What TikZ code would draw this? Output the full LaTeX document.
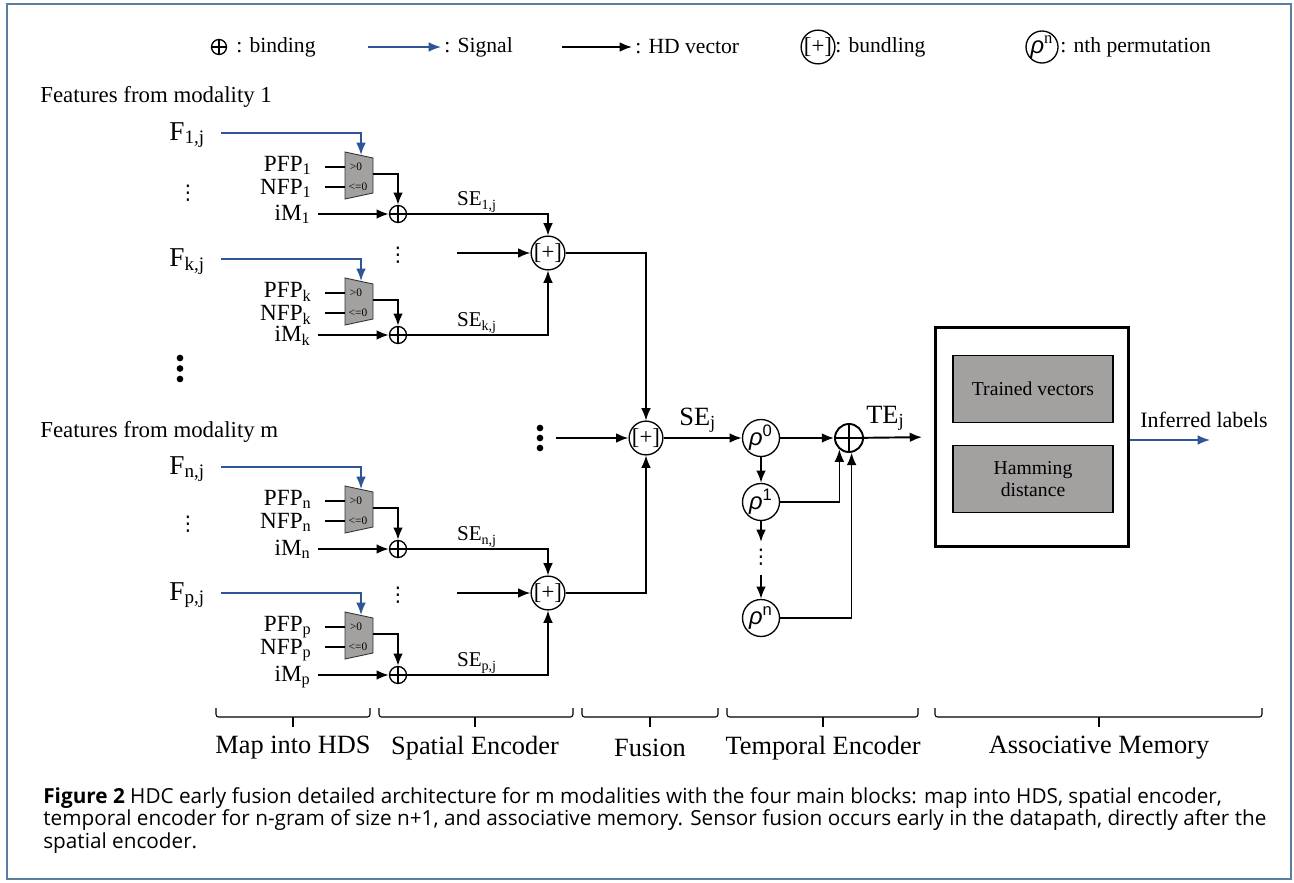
\documentclass[tikz,border=0pt]{standalone}
\usepackage{fontspec}
\setmainfont{Liberation Serif}
\newfontfamily\capfont{Open Sans}
\newfontfamily\rhofont{Liberation Sans}
\newfontfamily\dotfont{DejaVu Sans}
\usetikzlibrary{arrows.meta,positioning,calc}
\definecolor{sigblue}{HTML}{2F5597}
\definecolor{muxgray}{HTML}{A3A0A0}
\definecolor{framecol}{HTML}{5B7DA0}
\tikzset{
  vec/.style={-{Latex[length=7pt,width=5.5pt]}, line width=1.1pt},
  sev/.style={-{Latex[length=7pt,width=5.5pt]}, line width=0.75pt},
  wire/.style={line width=0.75pt},
  sig/.style={-{Latex[length=7pt,width=5.5pt]}, line width=0.9pt, sigblue},
  lab/.style={font=\fontsize{13.2}{13.2}\selectfont, inner sep=0pt},
  flab/.style={font=\fontsize{15.5}{15.5}\selectfont, inner sep=0pt},
  selab/.style={font=\fontsize{12}{12}\selectfont, inner sep=0pt},
  muxtxt/.style={font=\fontsize{6.5}{6.5}\selectfont, inner sep=0pt},
  vdt/.style={font=\dotfont\fontsize{11.5}{11.5}\selectfont, inner sep=0pt},
  mux/.style={draw=black!80, fill=muxgray, line width=0.5pt},
  bind/.style={circle, draw, line width=0.75pt, minimum size=0.34cm, inner sep=0pt,
    path picture={\draw[line width=0.75pt] (path picture bounding box.north) -- (path picture bounding box.south)
      (path picture bounding box.west) -- (path picture bounding box.east);}},
  bundle/.style={circle, draw, line width=0.75pt, minimum size=0.66cm, inner sep=0pt,
    font=\fontsize{13}{13}\selectfont},
  perm/.style={circle, draw, line width=0.75pt, minimum size=0.74cm, inner sep=0pt,
    font=\fontsize{13.5}{13.5}\selectfont},
  grayb/.style={draw, line width=0.8pt, fill=muxgray, minimum width=3.2cm, minimum height=1.34cm,
    align=center, font=\fontsize{11.2}{13}\selectfont},
  brk/.style={line width=0.6pt, rounded corners=1.5pt},
  blab/.style={font=\fontsize{15}{15}\selectfont, inner sep=0pt}
}
\begin{document}
\begin{tikzpicture}[x=0.02cm, y=-0.02cm]
\useasboundingbox (0,0) rectangle (1294,882);
\draw[framecol, line width=1.1pt] (7,4) rectangle (1291,879);

% legend
\node[bind, minimum size=0.3cm] (lgbind) at (219,47) {};
\node[lab, anchor=west, font=\fontsize{12.3}{12.3}\selectfont] (lgbindtxt) at (236,47) {: binding};
\coordinate (lgsigA) at (368,47);
\coordinate (lgsigB) at (441,47);
\draw[sig] (lgsigA) -- (lgsigB);
\node[lab, anchor=west, font=\fontsize{12.3}{12.3}\selectfont] (lgsigtxt) at (444,47) {: Signal};
\coordinate (lgvecA) at (562,47);
\coordinate (lgvecB) at (632,47);
\draw[vec] (lgvecA) -- (lgvecB);
\node[lab, anchor=west, font=\fontsize{12.3}{12.3}\selectfont] (lgvectxt) at (635,47) {: HD vector};
\node[bundle, minimum size=0.6cm] (lgbund) at (818,47) {[+]};
\node[lab, anchor=west, font=\fontsize{12.3}{12.3}\selectfont] (lgbundtxt) at (835,47) {: bundling};
\node[perm, minimum size=0.64cm] (lgperm) at (1042,47) {{\rhofont\itshape ρ}\textsuperscript{n}};
\node[lab, anchor=west, font=\fontsize{12.3}{12.3}\selectfont] (lgpermtxt) at (1060,47) {: nth permutation};

% inputs
\node[lab, anchor=west, font=\fontsize{13}{13}\selectfont] (mod1) at (40,97) {Features from modality 1};
\node[lab, anchor=west, font=\fontsize{13}{13}\selectfont] (modm) at (40,432) {Features from modality m};

\foreach \i/\fy/\by in {1/133/214, k/259/335, n/467/549, p/593/675}{
  \node[flab, anchor=base west] (F\i) at (169,{\fy+7}) {F\textsubscript{\i,j}};
  \coordinate (sig\i) at (221,\fy);
  \draw[mux] (345,{\fy+19}) -- (373,{\fy+25}) -- (373,{\fy+60}) -- (345,{\fy+66}) -- cycle;
  \node[muxtxt] (gt\i) at (356,{\fy+34}) {>0};
  \node[muxtxt] (le\i) at (358,{\fy+54}) {<=0};
  \coordinate (mtop\i) at (361,{\fy+22});
  \coordinate (mout\i) at (373,{\fy+41});
  \coordinate (pinA\i) at (345,{\fy+34});
  \coordinate (pinB\i) at (345,{\fy+54});
  \node[lab, anchor=base east, inner xsep=0.26cm] (pfp\i) at (325,{\fy+38}) {PFP\textsubscript{\i}};
  \node[lab, anchor=base east, inner xsep=0.26cm] (nfp\i) at (325,{\fy+61}) {NFP\textsubscript{\i}};
  \node[bind] (bind\i) at (398,\by) {};
  \node[lab, anchor=base east, inner xsep=0.14cm] (im\i) at (318,{\by+6}) {iM\textsubscript{\i}};
  \node[selab] (se\i) at (477,{\by-12}) {SE\textsubscript{\i,j}};
  \draw[sig] (sig\i) -| (mtop\i);
  \draw[wire] (pfp\i.east |- pinA\i) -- (pinA\i);
  \draw[wire] (nfp\i.east |- pinB\i) -- (pinB\i);
  \draw[vec] (mout\i) -| (bind\i);
  \draw[vec] (im\i.east |- bind\i) -- (bind\i);
}
\node[vdt] (dots1) at (188,193) {⋮};
\node[vdt] (dotsn) at (188,524) {⋮};
\fill (180,358) circle[radius=1.9pt] (180,368.5) circle[radius=1.9pt] (180,379) circle[radius=1.9pt];

% spatial encoder
\node[bundle] (bundA) at (548,253) {[+]};
\node[bundle] (bundB) at (548,593) {[+]};
\node[vdt] (dotsA) at (398,255) {⋮};
\node[vdt] (dotsB) at (398,595) {⋮};
\coordinate (inA) at (457,253);
\coordinate (inB) at (457,593);
\draw[vec] (inA) -- (bundA);
\draw[vec] (inB) -- (bundB);
\draw[sev] (bind1) -| (bundA);
\draw[sev] (bindk) -| (bundA);
\draw[sev] (bindn) -| (bundB);
\draw[sev] (bindp) -| (bundB);

% fusion
\node[bundle] (fus) at (646,438) {[+]};
\fill (540,428) circle[radius=1.9pt] (540,438) circle[radius=1.9pt] (540,448) circle[radius=1.9pt];
\coordinate (inF) at (556,438);
\draw[vec] (inF) -- (fus);
\draw[sev] (bundA) -| (fus);
\draw[sev] (bundB) -| (fus);

% temporal encoder
\node[perm] (rho0) at (761,438) {{\rhofont\itshape ρ}{\rhofont\textsuperscript{0}}};
\node[perm] (rho1) at (761,502) {{\rhofont\itshape ρ}{\rhofont\textsuperscript{1}}};
\node[perm] (rhon) at (761,618) {{\rhofont\itshape ρ}{\rhofont\textsuperscript{n}}};
\node[bind, minimum size=0.56cm, line width=1.1pt] (tbind) at (849,438) {};
\node[vdt] (rdots) at (761,557) {⋮};
\coordinate (rdA) at (761,542);
\coordinate (rdB) at (761,575);
\node[lab, anchor=base west, font=\fontsize{15}{15}\selectfont] (sej) at (679,425) {SE\textsubscript{j}};
\node[lab, anchor=base west, font=\fontsize{15}{15}\selectfont] (tej) at (866,423) {TE\textsubscript{j}};
\draw[vec] (fus) -- (rho0);
\draw[vec] (rho0) -- (tbind);
\draw[vec] (rho0) -- (rho1);
\draw[vec] (rho1) -- (rdA);
\draw[vec] (rdB) -- (rhon);
\draw[sev] (rho1) -| (tbind.-130);
\draw[sev] (rhon) -| (tbind.-80);

% associative memory
\node[draw, line width=1.7pt, minimum width=3.86cm, minimum height=4.4cm] (mem) at (1032,437) {};
\node[grayb] (tv) at (1033,389) {Trained vectors};
\node[grayb] (hd) at (1033,479) {Hamming\\distance};
\draw[vec, shorten >=0.24cm] (tbind) -- (mem.west);
\coordinate (infer) at (1210,440);
\draw[sig] (mem.east |- infer) -- (infer);
\node[lab, font=\fontsize{12.5}{12.5}\selectfont] (inftxt) at (1204,420) {Inferred labels};

% blocks
\foreach \xa/\xb/\xm/\txt/\nm in {216/370/293/Map into HDS/bmap, 379/573/475/Spatial Encoder/bspat,
    582/718/650/Fusion/bfus, 727/918/823/Temporal Encoder/btemp, 935/1262/1099/Associative Memory/bam}{
  \draw[brk] (\xa,708) -- (\xa,717) -- (\xb,717) -- (\xb,708);
  \draw[line width=0.6pt] (\xm,717) -- (\xm,727);
  \node[blab] (\nm) at (\xm,748) {\txt};
}

% caption
\node[anchor=north west, align=left, inner sep=0pt, font=\capfont\fontsize{11.8}{12.9}\selectfont] (cap) at (43,787)
  {\textbf{Figure 2} HDC early fusion detailed architecture for m modalities with the four main blocks: map into HDS, spatial encoder,\\
   temporal encoder for n-gram of size n+1, and associative memory. Sensor fusion occurs early in the datapath, directly after the\\
   spatial encoder.};
\end{tikzpicture}
\end{document}
